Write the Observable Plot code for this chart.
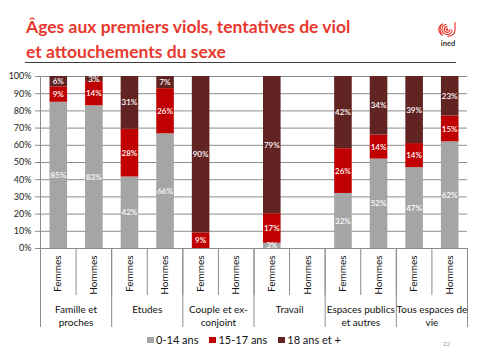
<!DOCTYPE html>
<html><head><meta charset="utf-8">
<script src="https://cdn.jsdelivr.net/npm/d3@7"></script>
<script src="https://cdn.jsdelivr.net/npm/@observablehq/plot@0.6"></script>
<style>
body{margin:0;background:#fff;}
#wrap{position:relative;width:480px;height:360px;overflow:hidden;font-family:Lato,"Liberation Sans",sans-serif;}
#title{position:absolute;left:26px;top:14px;font-size:17.5px;font-weight:700;color:#E8382E;line-height:25px;white-space:nowrap;}
#rule{position:absolute;left:25px;top:62px;width:431px;height:1px;background:#3c3c3c;}
#chart{position:absolute;left:0;top:66px;}
#legend{position:absolute;top:333px;left:4px;width:480px;display:flex;justify-content:center;font-size:11px;line-height:14px;color:#111;}
#legend .it{display:flex;align-items:center;margin:0 5.5px;}
#legend .sw{width:6.5px;height:6.5px;margin-right:2.5px;}
#page{position:absolute;left:443px;top:340px;font-size:6px;color:#999;}
#logo{position:absolute;left:436px;top:20px;}
</style></head>
<body>
<div id="wrap">
  <div id="title">Âges aux premiers viols, tentatives de viol<br>et attouchements du sexe</div>
  <div id="rule"></div>
  <svg id="logo" width="26" height="30" viewBox="0 0 26 30">
    <g fill="none" stroke="#E8382E" stroke-width="1.2" stroke-linecap="round">
      <circle cx="11" cy="9.5" r="1.3" fill="#E8382E" stroke="none"/>
      <path d="M11 6.7 A2.8 2.8 0 1 0 13.8 9.5"/>
      <path d="M10 4.4 A5.1 5.1 0 1 0 16.1 10"/>
      <path d="M6.5 4 A7.2 7.2 0 0 0 6.5 15"/>
      <path d="M4.6 5.2 A6 6 0 0 0 4.6 13.8"/>
      <path d="M19 2.5 V10 A6.5 6.5 0 0 1 12 16.2"/>
    </g>
    <text x="12" y="26" text-anchor="middle" font-family="Lato, 'Liberation Sans', sans-serif" font-weight="700" font-size="7.5" fill="#333">ined</text>
  </svg>
  <div id="chart"></div>
  <div id="legend"></div>
  <div id="page">22</div>
</div>
<script>
const groups = ["Famille et\nproches", "Etudes", "Couple et ex-\nconjoint", "Travail", "Espaces publics\net autres", "Tous espaces de\nvie"];
const sexes = ["Femmes", "Hommes"];
const ages = ["0-14 ans", "15-17 ans", "18 ans et +"];
const colors = ["#A5A5A5", "#C00000", "#622423"];
// one value per bar, bars ordered group by group, Femmes then Hommes
const v0_14  = [85, 83, 42, 66, 0, null, 3, null, 32, 52, 47, 62];
const v15_17 = [9, 14, 28, 26, 9, null, 17, null, 26, 14, 14, 15];
const v18    = [6, 3, 31, 7, 90, null, 79, null, 42, 34, 39, 23];
const yTicks = [0, 10, 20, 30, 40, 50, 60, 70, 80, 90, 100];

const series = [v0_14, v15_17, v18];
const bars = [];
groups.forEach((g, gi) => sexes.forEach((s, si) => bars.push({group: g, gi, sex: s, i: gi * sexes.length + si})));
const rows = [];
bars.forEach(b => series.forEach((vals, a) => {
  const v = vals[b.i];
  if (v != null && v > 0) rows.push({i: b.i, group: b.group, sex: b.sex, age: ages[a], v});
}));

const yVals = yTicks.map(t => t / 100);
const leafBounds = d3.range(bars.length + 1);
const groupBounds = d3.range(groups.length + 1).map(g => g * sexes.length);
const leafCenters = bars.map(b => b.i + 0.5);
const groupCenters = groups.map((g, gi) => gi * sexes.length + sexes.length / 2);
const axisColor = "#8c8c8c";

const chart = Plot.plot({
  width: 480, height: 266,
  marginTop: 10, marginBottom: 84, marginLeft: 40, marginRight: 13,
  style: {fontFamily: "Lato, 'Liberation Sans', sans-serif", background: "transparent"},
  x: {type: "linear", domain: [0, bars.length]},
  y: {domain: [0, 1]},
  color: {domain: ages, range: colors},
  marks: [
    Plot.gridY(yVals, {stroke: axisColor, strokeOpacity: 1}),
    Plot.ruleX([0], {stroke: axisColor}),
    Plot.axisY(yVals, {tickSize: 5, tickPadding: 4, stroke: axisColor, fill: "#222", fontSize: 9,
      tickFormat: d => Math.round(d * 100) + "%", label: null}),
    Plot.rectY(rows, Plot.stackY({x1: "i", x2: d => d.i + 1, y: "v", fill: "age", offset: "normalize",
      insetLeft: 9.5, insetRight: 8.5})),
    Plot.text(rows, Plot.stackY({x: d => d.i + 0.5, y: "v", text: d => d.v + "%", offset: "normalize",
      fill: "white", fontSize: 8, fontWeight: 600})),
    Plot.axisX(leafBounds, {tickSize: 47, stroke: axisColor, fill: "none", label: null}),
    Plot.axisX(groupBounds, {tickSize: 79, stroke: axisColor, fill: "none", label: null}),
    Plot.axisX(leafCenters, {tickSize: 0, tickPadding: 7, tickRotate: -90, fontSize: 10, fill: "#111",
      tickFormat: d => bars[Math.floor(d)].sex, label: null}),
    Plot.axisX(groupCenters, {tickSize: 0, tickPadding: 55, fontSize: 10, fill: "#111", lineHeight: 1.3,
      tickFormat: d => groups[Math.floor(d / sexes.length)], label: null})
  ]
});
document.getElementById("chart").appendChild(chart);

const legend = document.getElementById("legend");
ages.forEach((a, k) => {
  const it = document.createElement("div"); it.className = "it";
  const sw = document.createElement("div"); sw.className = "sw"; sw.style.background = colors[k];
  const tx = document.createElement("span"); tx.textContent = a;
  it.appendChild(sw); it.appendChild(tx); legend.appendChild(it);
});
</script>
</body></html>
